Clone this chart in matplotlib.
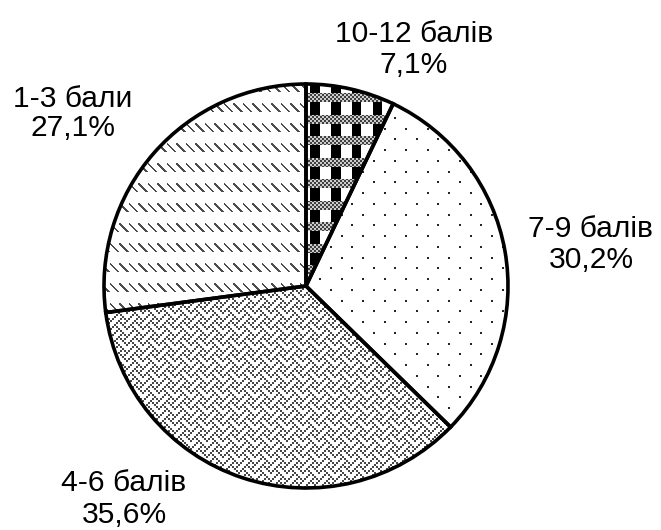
import numpy as np
import matplotlib.pyplot as plt

# data
labels = ['10-12 балів', '7-9 балів', '4-6 балів', '1-3 бали']
shares = [7.1, 30.2, 35.6, 27.1]
pct_text = ['7,1%', '30,2%', '35,6%', '27,1%']

plt.rcParams['font.family'] = ['Liberation Sans', 'DejaVu Sans']

W, H = 661, 530
Y, X = np.indices((H, W)).astype(float)


def tex_check():
    img = np.ones((H, W))
    band = ((Y - 93) % 21.5) < 9
    col = ((X - 310) % 20.7) < 9.5
    img[col & ~band] = 0.0
    dots = ((X // 2 + Y // 2) % 2 == 0)
    img[band & dots] = 0.25
    img[band & ~dots] = 0.8
    return img


def tex_dots():
    img = np.ones((H, W))
    r = np.floor((Y - 202.5) / 10.75)
    fy = (Y - 202.5) - r * 10.75
    fx = (X - 351 - (r % 2) * 10.75) % 21.5
    img[(fy < 2) & (fx < 2)] = 0.15
    return img


def tex_weave():
    bits = [0x11, 0x2a, 0x44, 0xa2, 0x11, 0x28, 0x44, 0x8a]
    tile = np.array([[(b >> (7 - i)) & 1 for i in range(8)] for b in bits])
    t = tile[(Y.astype(int) // 2) % 8, (X.astype(int) // 2) % 8]
    return np.where(t == 1, 0.28, 1.0)


def tex_dash():
    img = np.ones((H, W))
    ry = (Y - 163) % 20
    rx = (X - 100) % 9.5
    d = rx - ry
    img[(ry < 9) & (d >= -1) & (d < 1.5)] = 0.3
    return img


textures = [tex_check(), tex_dots(), tex_weave(), tex_dash()]

fig = plt.figure(figsize=(W / 100, H / 100), dpi=100)
ax = fig.add_axes([0, 0, 1, 1])

wedges, _ = ax.pie(shares, startangle=90, counterclock=False,
                   center=(306, H - 286), radius=202,
                   wedgeprops=dict(facecolor='none', edgecolor='black',
                                   linewidth=2.6, zorder=3))

for w, img in zip(wedges, textures):
    im = ax.imshow(img, cmap='gray', vmin=0, vmax=1, extent=(0, W, 0, H),
                   origin='upper', interpolation='nearest', zorder=1)
    im.set_clip_path(w)

# label positions (pixel coords from top): centre x, baseline of two lines
pos = [(414, 42, 73), (591, 237, 268), (124, 491, 523), (73, 107, 136)]
for lab, pt, (x, b1, b2) in zip(labels, pct_text, pos):
    ax.text(x, H - b1, lab, ha='center', va='baseline', fontsize=21.6)
    ax.text(x, H - b2, pt, ha='center', va='baseline', fontsize=21.6)

ax.set_xlim(0, W)
ax.set_ylim(0, H)
ax.set_aspect('auto')
ax.set_axis_off()

fig.savefig('out.png', dpi=100)
